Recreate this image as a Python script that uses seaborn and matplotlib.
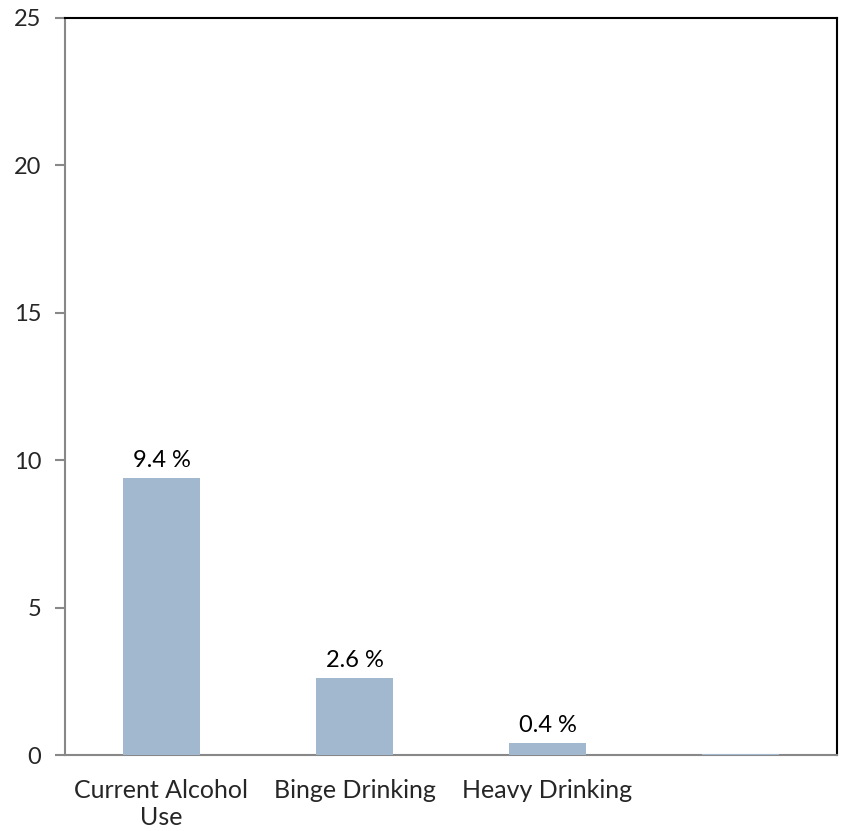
import matplotlib
matplotlib.use("Agg")
import matplotlib.pyplot as plt
import seaborn as sns
import pandas as pd

categories = ["Current Alcohol\nUse", "Binge Drinking", "Heavy Drinking", ""]
values = [9.4, 2.6, 0.4, 0.05]
value_labels = ["9.4 %", "2.6 %", "0.4 %", ""]
y_ticks = [0, 5, 10, 15, 20, 25]

sns.set_theme(style="white")
plt.rcParams["font.family"] = ["Lato", "DejaVu Sans"]

df = pd.DataFrame({"category": categories, "value": values})

fig = plt.figure(figsize=(8.44, 8.31), dpi=100)
ax = fig.add_axes([65 / 844, 1 - 755 / 831, (837 - 65) / 844, (755 - 18) / 831])

sns.barplot(data=df, x="category", y="value", color="#A2B8CF", saturation=1,
            width=0.4, linewidth=0, ax=ax, zorder=3)

for i, (v, lab) in enumerate(zip(values, value_labels)):
    if lab:
        ax.text(i, v + 0.25, lab, ha="center", va="bottom", fontsize=17, color="black")

ax.set_xlim(-0.5, len(categories) - 0.5)
ax.set_ylim(0, 25)
ax.set_yticks(y_ticks)
ax.set_yticklabels([str(t) for t in y_ticks], fontsize=17)
ax.set_xticks(range(len(categories)))
ax.set_xticklabels(categories, fontsize=18, linespacing=1.25)
ax.set_xticks([i - 0.5 for i in range(len(categories) + 1)], minor=True)
ax.tick_params(axis="x", which="major", length=0, pad=17)
ax.tick_params(axis="x", which="minor", length=7, width=1.5, color="#888888", direction="out")
ax.tick_params(axis="y", which="major", length=7, width=1.5, color="#888888",
               direction="out", left=True, pad=10)
ax.set_xlabel("")
ax.set_ylabel("")

for side in ["left", "bottom"]:
    ax.spines[side].set_color("#888888")
    ax.spines[side].set_linewidth(1.5)
for side in ["top", "right"]:
    ax.spines[side].set_color("black")
    ax.spines[side].set_linewidth(1.5)

fig.savefig("out.png", dpi=100)
